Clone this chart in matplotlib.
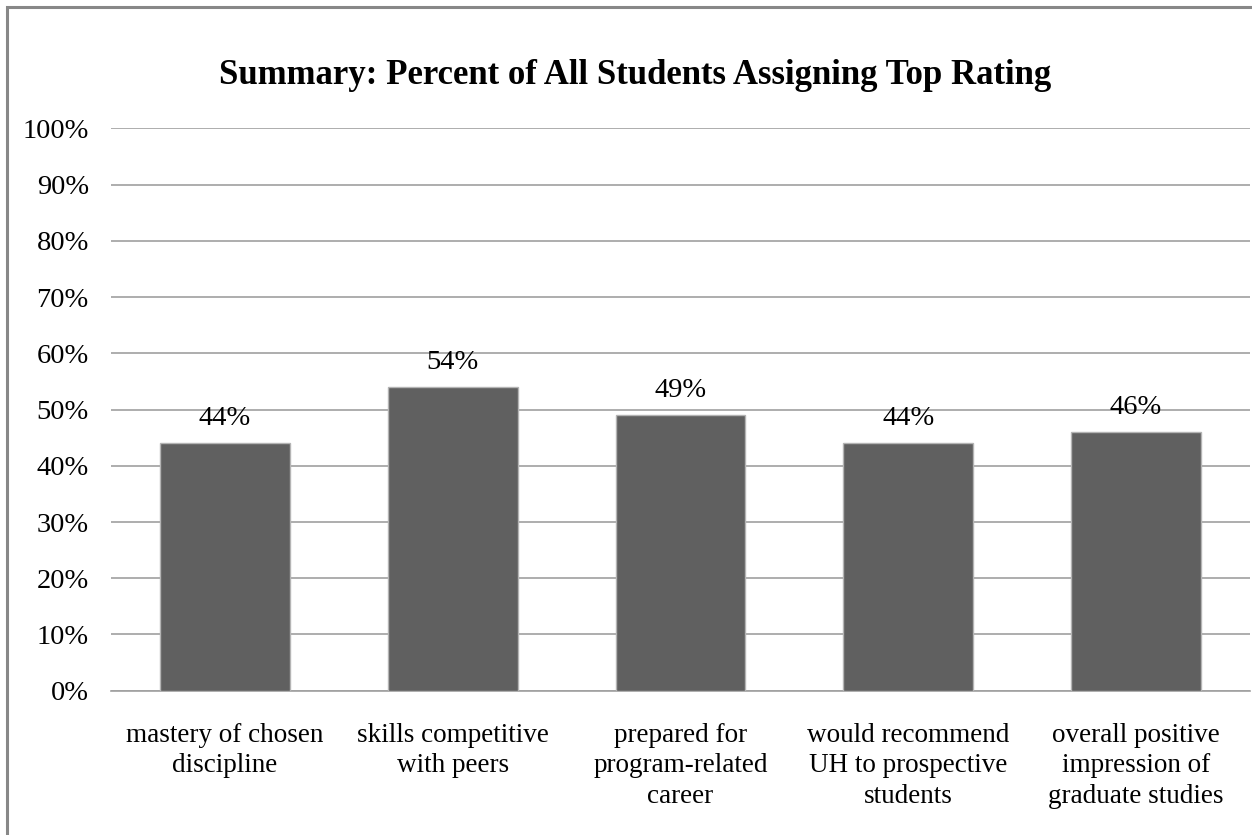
import matplotlib
matplotlib.use("Agg")
import matplotlib.pyplot as plt
from matplotlib.patches import Rectangle
from matplotlib.ticker import MultipleLocator, FuncFormatter

plt.rcParams['font.family'] = ['Liberation Serif', 'DejaVu Serif']

categories = [
    "mastery of chosen\ndiscipline",
    "skills competitive\nwith peers",
    "prepared for\nprogram-related\ncareer",
    "would recommend\nUH to prospective\nstudents",
    "overall positive\nimpression of\ngraduate studies",
]
values = [44, 54, 49, 44, 46]
title = "Summary: Percent of All Students Assigning Top Rating"

fig = plt.figure(figsize=(12.52, 8.35), dpi=100)
ax = fig.add_axes([0.0887, 0.1728, 0.9097, 0.6735])

x = range(len(categories))
bars = ax.bar(x, values, width=0.57, color="#606060", edgecolor="#b4b4b4",
              linewidth=1.0, zorder=3)

for rect, v in zip(bars, values):
    ax.annotate(f"{v}%", (rect.get_x() + rect.get_width() / 2, v),
                xytext=(0, 9), textcoords="offset points",
                ha="center", va="bottom", fontsize=20.5, color="black")

ax.set_ylim(0, 100)
ax.set_xlim(-0.5, len(categories) - 0.5)
ax.yaxis.set_major_locator(MultipleLocator(10))
ax.yaxis.set_major_formatter(FuncFormatter(lambda v, p: f"{int(round(v))}%"))
ax.grid(axis="y", color="#a0a0a0", linewidth=1.2, zorder=0)
ax.set_axisbelow(True)

ax.set_xticks(list(x))
ax.set_xticklabels(categories, fontsize=19.5, linespacing=1.3)
ax.tick_params(axis="x", length=0, pad=23)
ax.tick_params(axis="y", length=0, pad=16, labelsize=20.5)

for s in ["top", "right", "left"]:
    ax.spines[s].set_visible(False)
ax.spines["bottom"].set_color("#a0a0a0")
ax.spines["bottom"].set_linewidth(1.2)

fig.text(0.507, 0.910, title, ha="center", va="center",
         fontsize=25, fontweight="bold")

# outer chart frame
fig.patches.append(Rectangle((0.0056, -0.1), 1.2, 1.1 - 0.0083,
                             transform=fig.transFigure, fill=False,
                             edgecolor="#888888", linewidth=2.2))

fig.savefig("out.png", dpi=100)
